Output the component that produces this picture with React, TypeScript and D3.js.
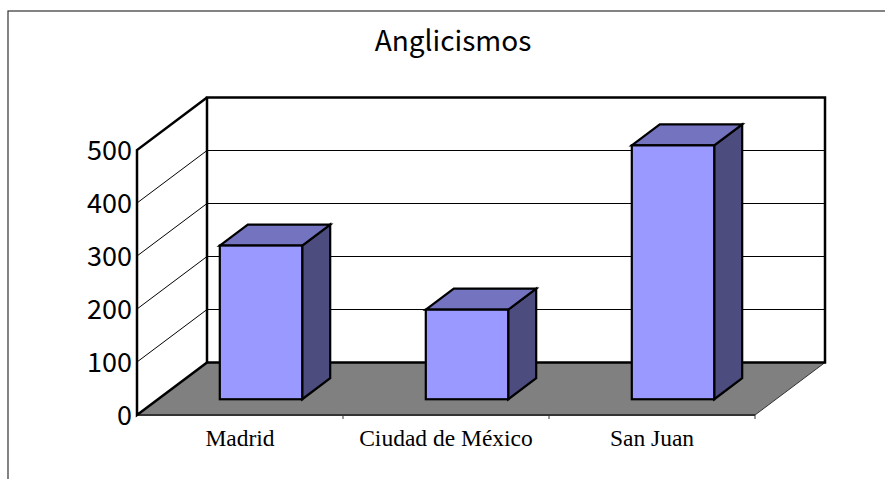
import React from 'react';
import * as d3 from 'd3';

const categories = ['Madrid', 'Ciudad de México', 'San Juan'];
const values = [290, 169, 479];
const yTicks = [0, 100, 200, 300, 400, 500];
const title = 'Anglicismos';

const W = 885;
const H = 479;
// 3D depth offset of the back wall
const DX = 70;
const DY = -52.5;
const BAR_FRONT = 0.3;
const BAR_BACK = 0.7;

const x = d3.scaleBand<string>().domain(categories).range([137, 755]).padding(0);
const y = d3.scaleLinear().domain([0, 500]).range([415, 150]);

const pts = (p: [number, number][]) => p.map(q => q.join(',')).join(' ');

const App: React.FC = () => {
  const x0 = x.range()[0];
  const x1 = x.range()[1];
  const y0 = y(0);
  const yTop = y(500);
  const labelFont = '"Noto Sans CJK JP", "Noto Sans", sans-serif';

  return (
    <svg width={W} height={H} style={{ position: 'absolute', left: 0, top: 0, background: '#fff' }}>
      {/* outer frame */}
      <rect x={8} y={11} width={900} height={500} fill="none" stroke="#333" strokeWidth={1.2} />

      <text x={453} y={51} textAnchor="middle" fontFamily={labelFont} fontSize={28} fill="#000">
        {title}
      </text>

      {/* floor */}
      <polygon
        points={pts([[x0, y0], [x1, y0], [x1 + DX, y0 + DY], [x0 + DX, y0 + DY]])}
        fill="#808080"
        stroke="none"
      />
      <line x1={x0} y1={y0} x2={x1} y2={y0} stroke="#333" strokeWidth={2} />
      <line x1={x1} y1={y0} x2={x1 + DX} y2={y0 + DY} stroke="#333" strokeWidth={1} />

      {/* back wall */}
      <rect x={x0 + DX} y={yTop + DY} width={x1 - x0} height={y0 - yTop} fill="#fff" stroke="none" />
      {yTicks.slice(1, -1).map(t => (
        <line key={'g' + t} x1={x0 + DX} x2={x1 + DX} y1={y(t) + DY} y2={y(t) + DY} stroke="#000" strokeWidth={1} />
      ))}

      {/* left wall diagonals */}
      {yTicks.slice(1, -1).map(t => (
        <line key={'d' + t} x1={x0} y1={y(t)} x2={x0 + DX} y2={y(t) + DY} stroke="#000" strokeWidth={1} />
      ))}
      <rect x={x0 + DX} y={yTop + DY} width={x1 - x0} height={y0 - yTop} fill="none" stroke="#000" strokeWidth={2.5} />
      <polyline
        points={pts([[x0 + DX, y0 + DY], [x0, y0], [x0, yTop], [x0 + DX, yTop + DY]])}
        fill="none"
        stroke="#000"
        strokeWidth={2.5}
        strokeLinejoin="miter"
      />

      {/* category ticks */}
      {categories.map(c => (
        <line key={'t' + c} x1={x(c)! + x.bandwidth()} x2={x(c)! + x.bandwidth()} y1={y0} y2={y0 + 4} stroke="#333" strokeWidth={1} />
      ))}

      {/* bars */}
      {categories.map((c, i) => {
        const bw = x.bandwidth() * 0.4;
        const bx = x(c)! + (x.bandwidth() - bw) / 2 + BAR_FRONT * DX;
        const by0 = y0 + BAR_FRONT * DY;
        const byt = y(values[i]) + BAR_FRONT * DY;
        const ddx = (BAR_BACK - BAR_FRONT) * DX;
        const ddy = (BAR_BACK - BAR_FRONT) * DY;
        return (
          <g key={'b' + c} stroke="#000" strokeWidth={2.2} strokeLinejoin="miter">
            <polygon points={pts([[bx + bw, by0], [bx + bw + ddx, by0 + ddy], [bx + bw + ddx, byt + ddy], [bx + bw, byt]])} fill="#4C4C7F" />
            <polygon points={pts([[bx, byt], [bx + bw, byt], [bx + bw + ddx, byt + ddy], [bx + ddx, byt + ddy]])} fill="#7373BF" />
            <rect x={bx} y={byt} width={bw} height={by0 - byt} fill="#9999FF" />
          </g>
        );
      })}

      {/* y tick labels */}
      {yTicks.map(t => (
        <text key={'y' + t} x={132} y={y(t)} dy="0.37em" textAnchor="end" fontFamily={labelFont} fontSize={27} fill="#000">
          {t}
        </text>
      ))}

      {/* category labels */}
      {categories.map(c => (
        <text key={'l' + c} x={x(c)! + x.bandwidth() / 2} y={446} textAnchor="middle" fontFamily='"Liberation Serif", "Times New Roman", serif' fontSize={23.5} fill="#000">
          {c}
        </text>
      ))}
    </svg>
  );
};

export default App;
